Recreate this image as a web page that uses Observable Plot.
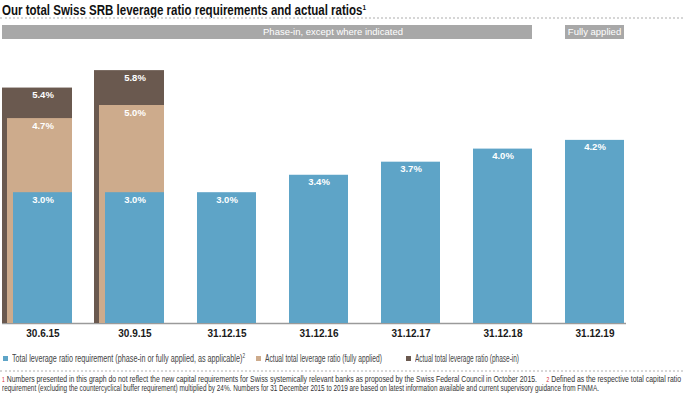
<!DOCTYPE html>
<html><head><meta charset="utf-8">
<script src="https://cdn.jsdelivr.net/npm/d3@7"></script>
<script src="https://cdn.jsdelivr.net/npm/@observablehq/plot@0.6"></script>
<style>
body{margin:0;background:#fff;}
#wrap{position:relative;width:683px;height:395px;overflow:hidden;font-family:"Liberation Sans Narrow","Arial Narrow","Liberation Sans",sans-serif;color:#333;}
.abs{position:absolute;white-space:nowrap;transform-origin:0 50%;line-height:1;}
.dots{position:absolute;left:0;width:683px;height:0;border-top:2px dotted #d6d6d6;}
.band{position:absolute;background:#a8a8a8;}
.sw{position:absolute;width:5px;height:5px;}
.red{color:#d9262e;font-size:6.5px;}
</style></head><body><div id="wrap"></div>
<script>
const categories = ["30.6.15","30.9.15","31.12.15","31.12.16","31.12.17","31.12.18","31.12.19"];
const requirement = [3.0, 3.0, 3.0, 3.4, 3.7, 4.0, 4.2];
const actualFullyApplied = [4.7, 5.0, null, null, null, null, null];
const actualPhaseIn = [5.4, 5.8, null, null, null, null, null];
const seriesNames = [
  "Total leverage ratio requirement (phase-in or fully applied, as applicable)²",
  "Actual total leverage ratio (fully applied)",
  "Actual total leverage ratio (phase-in)"
];
const bandLabels = ["Phase-in, except where indicated", "Fully applied"];
const titleText = "Our total Swiss SRB leverage ratio requirements and actual ratios¹";
const colors = ["#5ea4c7", "#cdab8c", "#6a594f"];

const rows = (vals) => categories.map((c, i) => ({cat: c, value: vals[i]})).filter(d => d.value != null);
const reqRows = rows(requirement), fullRows = rows(actualFullyApplied), phaseRows = rows(actualPhaseIn);
const labelRows = [...phaseRows, ...fullRows, ...reqRows];

const wrap = document.getElementById("wrap");
const font = '"Liberation Sans Narrow","Arial Narrow","Liberation Sans",sans-serif';
const svgTop = 40, H = 305, MB = 22, pxPerPct = 43.6;

const plot = Plot.plot({
  width: 683, height: H, marginLeft: 13, marginRight: 57, marginTop: 0, marginBottom: MB,
  style: {fontFamily: font, background: "transparent"},
  x: {type: "band", domain: categories, paddingInner: 0.36, paddingOuter: 0, align: 0, axis: null},
  y: {domain: [0, (H - MB) / pxPerPct], axis: null},
  marks: [
    Plot.ruleY([0], {stroke: "#9a9a9a", strokeWidth: 1.5, insetLeft: -11}),
    Plot.barY(phaseRows, {x: "cat", y: "value", fill: colors[2], insetLeft: -11, insetRight: 0}),
    Plot.barY(fullRows, {x: "cat", y: "value", fill: colors[1], insetLeft: -6, insetRight: 0}),
    Plot.barY(reqRows, {x: "cat", y: "value", fill: colors[0], insetLeft: 0, insetRight: 0}),
    Plot.text(labelRows, {x: "cat", y: "value", text: d => d.value.toFixed(1) + "%", dy: 7, lineAnchor: "middle", fill: "#fff", fontSize: 9.5, fontWeight: "bold"}),
    Plot.text(categories, {x: d => d, frameAnchor: "bottom", dy: 10, lineAnchor: "middle", fill: "#1a1a1a", fontSize: 10, fontWeight: "bold"})
  ]
});
plot.style.position = "absolute";
plot.style.left = "0px";
plot.style.top = svgTop + "px";
wrap.appendChild(plot);

function addText(html, left, cy, size, opts = {}) {
  const el = document.createElement("div");
  el.className = "abs";
  el.innerHTML = html;
  el.style.left = left + "px";
  el.style.fontSize = size + "px";
  if (opts.weight) el.style.fontWeight = opts.weight;
  if (opts.color) el.style.color = opts.color;
  wrap.appendChild(el);
  const r = el.getBoundingClientRect();
  el.style.top = (cy - r.height / 2) + "px";
  if (opts.width) el.style.transform = `scaleX(${opts.width / r.width})`;
  if (opts.center != null) {
    const w = opts.width || r.width;
    el.style.left = (opts.center - w / 2) + "px";
  }
  return el;
}

// title
addText(titleText.replace("¹", "<span style='font-size:8px;vertical-align:5px'>1</span>"), 2, 10, 14.5, {weight: "bold", color: "#111", width: 364});
const d1 = document.createElement("div"); d1.className = "dots"; d1.style.top = "17px"; wrap.appendChild(d1);

// phase bands, positioned from the x scale
const xs = plot.scale("x");
const bw = xs.bandwidth;
const b1L = xs.apply(categories[0]) - 11, b1R = xs.apply(categories[5]) + bw;
const b2L = xs.apply(categories[6]), b2R = b2L + bw;
[[b1L, b1R, bandLabels[0], 333], [b2L, b2R, bandLabels[1], (b2L + b2R) / 2]].forEach(([l, r, t, c]) => {
  const b = document.createElement("div"); b.className = "band";
  b.style.left = l + "px"; b.style.width = (r - l) + "px"; b.style.top = "25px"; b.style.height = "14px";
  wrap.appendChild(b);
  addText(t, 0, 32, 9.5, {color: "#fff", center: c});
});

// legend
const legX = [3, 256, 406], legW = [233, 117, 104];
seriesNames.forEach((n, i) => {
  const s = document.createElement("div"); s.className = "sw";
  s.style.left = legX[i] + "px"; s.style.top = "356px"; s.style.background = colors[i];
  wrap.appendChild(s);
  addText(n.replace("²", "<span style='font-size:6.5px;vertical-align:4px'>2</span>"), legX[i] + 9, 358.5, 10, {color: "#444", width: legW[i]});
});
const d2 = document.createElement("div"); d2.className = "dots"; d2.style.top = "370px"; wrap.appendChild(d2);

// footnotes
addText("<span class='red'>1</span> Numbers presented in this graph do not reflect the new capital requirements for Swiss systemically relevant banks as proposed by the Swiss Federal Council in October 2015.&nbsp;&nbsp;&nbsp;&nbsp; <span class='red'>2</span> Defined as the respective total capital ratio", 2, 379, 9, {color: "#333", width: 679});
addText("requirement (excluding the countercyclical buffer requirement) multiplied by 24%. Numbers for 31 December 2015 to 2019 are based on latest information available and current supervisory guidance from FINMA.", 2, 388.5, 9, {color: "#333", width: 597});
</script></body></html>
